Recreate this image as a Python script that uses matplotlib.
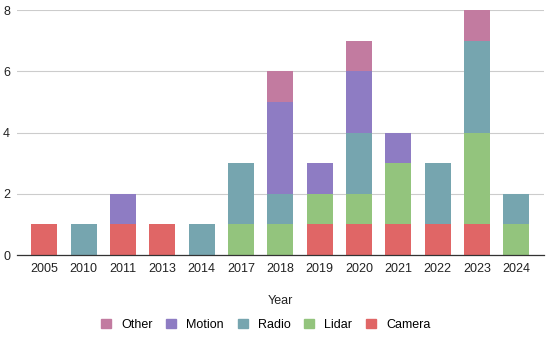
import numpy as np
import matplotlib.pyplot as plt
from matplotlib.patches import Patch

plt.rcParams['font.family'] = ['Liberation Sans', 'DejaVu Sans']

# Data
years = ['2005', '2010', '2011', '2013', '2014', '2017', '2018',
         '2019', '2020', '2021', '2022', '2023', '2024']
camera = [1, 0, 1, 1, 0, 0, 0, 1, 1, 1, 1, 1, 0]
lidar = [0, 0, 0, 0, 0, 1, 1, 1, 1, 2, 0, 3, 1]
radio = [0, 1, 0, 0, 1, 2, 1, 0, 2, 0, 2, 3, 1]
motion = [0, 0, 1, 0, 0, 0, 3, 1, 2, 1, 0, 0, 0]
other = [0, 0, 0, 0, 0, 0, 1, 0, 1, 0, 0, 1, 0]

series = [('Camera', camera, '#e06666'),
          ('Lidar', lidar, '#93c47d'),
          ('Radio', radio, '#76a5af'),
          ('Motion', motion, '#8e7cc3'),
          ('Other', other, '#c27ba0')]

fig = plt.figure(figsize=(5.5, 3.37), dpi=100)
ax = fig.add_axes([0.031, 0.243, 0.958, 0.727])

x = np.arange(len(years))
bottom = np.zeros(len(years))
for name, vals, col in series:
    vals = np.array(vals, dtype=float)
    ax.bar(x, vals, 0.66, bottom=bottom, color=col, label=name, zorder=2)
    bottom += vals

ax.set_xlim(-0.69, 12.7)
ax.set_ylim(0, 8)
ax.set_yticks([0, 2, 4, 6, 8])
ax.set_xticks(x)
ax.set_xticklabels(years)
ax.tick_params(axis='both', length=0, labelsize=9, colors='#222222')
ax.tick_params(axis='y', pad=5)
ax.tick_params(axis='x', pad=6)
ax.grid(axis='y', color='#cccccc', linewidth=0.8, zorder=0)
for s in ['top', 'right', 'left']:
    ax.spines[s].set_visible(False)
ax.spines['bottom'].set_color('#333333')
ax.spines['bottom'].set_linewidth(0.9)
ax.spines['bottom'].set_zorder(3)

ax.set_xlabel('Year', fontsize=9, color='#222222', labelpad=14)

handles = [Patch(color=c, label=n) for n, v, c in series[::-1]]
fig.legend(handles=handles, loc='center', bbox_to_anchor=(0.483, 0.036),
           ncol=5, frameon=False, fontsize=9, handlelength=0.8,
           handleheight=0.8, handletextpad=0.8, columnspacing=1.1)

fig.savefig('out.png', dpi=100)
